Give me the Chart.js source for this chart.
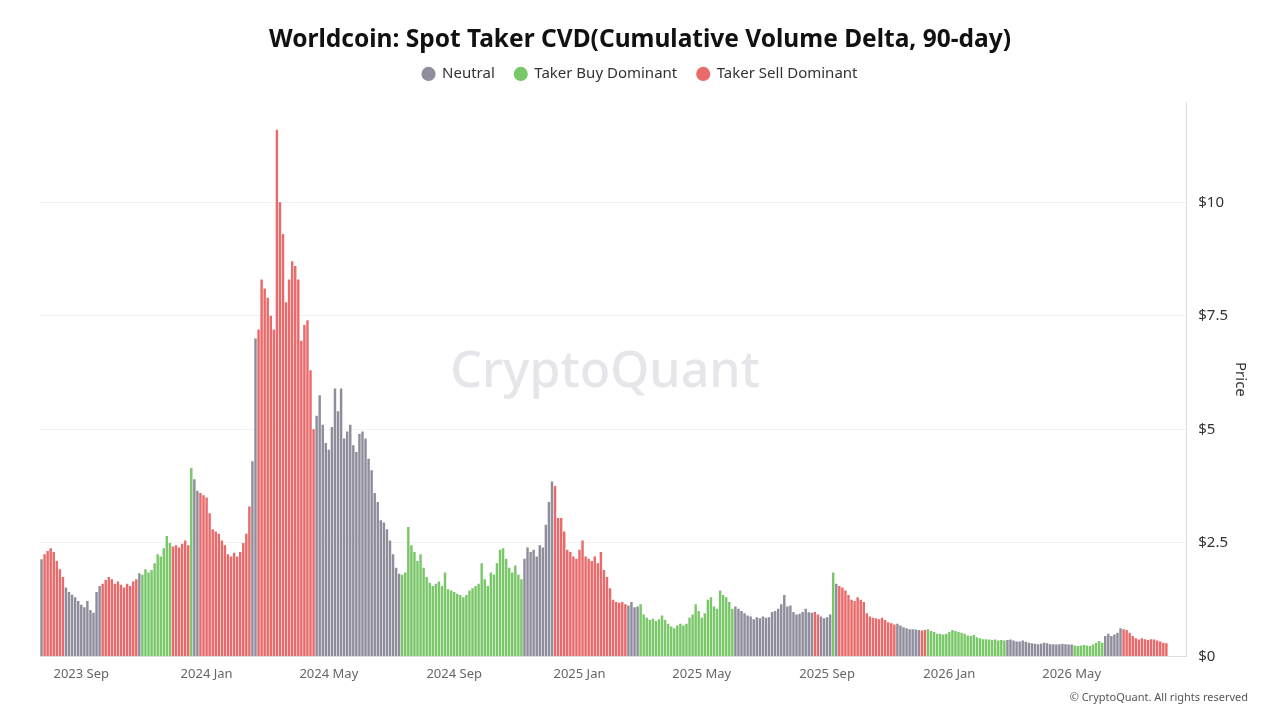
<!DOCTYPE html>
<html>
<head>
<meta charset="utf-8">
<title>Worldcoin: Spot Taker CVD</title>
<script src="https://cdn.jsdelivr.net/npm/chart.js@4.4.1/dist/chart.umd.min.js"></script>
<style>
  html, body { margin: 0; padding: 0; background: #fff; }
  #wrap { width: 1280px; height: 720px; position: relative; }
</style>
</head>
<body>
<div id="wrap"><canvas id="cvdChart"></canvas></div>
<script>
// one bar every 3 days, starting at startDate
const startDate = '2023-07-23';
const stepDays = 3;
const tailSlots = 6; // empty room at the end of the axis

// WLD price (USD)
const prices = [
  2.14, 2.25, 2.32, 2.38, 2.30, 2.10, 1.92, 1.75, 1.52, 1.42,
  1.36, 1.30, 1.22, 1.14, 1.08, 1.22, 1.02, 0.96, 1.42, 1.55,
  1.60, 1.68, 1.75, 1.70, 1.60, 1.65, 1.58, 1.52, 1.60, 1.55,
  1.65, 1.70, 1.83, 1.80, 1.92, 1.85, 1.90, 2.05, 2.25, 2.20,
  2.38, 2.65, 2.50, 2.42, 2.45, 2.40, 2.48, 2.55, 2.45, 4.15,
  3.90, 3.65, 3.60, 3.55, 3.50, 3.15, 2.80, 2.75, 2.70, 2.55,
  2.45, 2.25, 2.20, 2.28, 2.20, 2.30, 2.50, 2.70, 3.30, 4.30,
  7.00, 7.20, 8.30, 8.10, 7.90, 7.50, 7.20, 11.60, 10.00, 9.30,
  7.80, 8.30, 8.70, 8.60, 8.30, 6.95, 7.30, 7.40, 6.30, 5.00,
  5.30, 5.75, 5.10, 4.70, 4.55, 5.05, 5.90, 5.40, 5.90, 4.80,
  4.95, 5.10, 4.65, 4.50, 4.90, 4.95, 4.80, 4.35, 4.10, 3.60,
  3.40, 3.00, 2.95, 2.80, 2.55, 2.25, 1.95, 1.82, 1.80, 1.85,
  2.85, 2.45, 2.30, 2.10, 2.25, 1.95, 1.75, 1.62, 1.55, 1.60,
  1.65, 1.55, 1.85, 1.48, 1.45, 1.42, 1.38, 1.35, 1.30, 1.35,
  1.45, 1.50, 1.55, 1.60, 2.05, 1.70, 1.55, 1.85, 1.80, 2.05,
  2.35, 2.38, 2.15, 1.95, 1.85, 2.00, 1.80, 1.70, 2.15, 2.40,
  2.30, 2.35, 2.20, 2.45, 2.40, 2.90, 3.40, 3.85, 3.75, 3.05,
  3.05, 2.75, 2.35, 2.30, 2.20, 2.15, 2.35, 2.55, 2.20, 2.15,
  2.10, 2.20, 2.05, 2.30, 1.90, 1.75, 1.50, 1.25, 1.20, 1.18,
  1.20, 1.15, 1.12, 1.20, 1.08, 1.10, 1.15, 0.92, 0.85, 0.80,
  0.83, 0.78, 0.82, 0.90, 0.80, 0.72, 0.66, 0.62, 0.68, 0.72,
  0.68, 0.72, 0.85, 0.92, 1.15, 1.00, 0.85, 0.95, 1.25, 1.30,
  1.10, 1.05, 1.45, 1.35, 1.30, 1.20, 1.05, 1.10, 1.05, 1.00,
  0.95, 0.90, 0.88, 0.82, 0.86, 0.84, 0.88, 0.85, 0.86, 0.98,
  1.00, 1.05, 1.15, 1.35, 1.10, 1.12, 0.98, 0.92, 0.94, 0.98,
  1.05, 0.97, 0.96, 0.98, 0.92, 0.88, 0.84, 0.86, 0.92, 1.85,
  1.60, 1.55, 1.52, 1.45, 1.35, 1.25, 1.22, 1.30, 1.25, 1.20,
  0.95, 0.88, 0.85, 0.84, 0.82, 0.85, 0.80, 0.75, 0.73, 0.70,
  0.72, 0.68, 0.64, 0.62, 0.60, 0.60, 0.59, 0.58, 0.57, 0.58,
  0.60, 0.56, 0.54, 0.50, 0.50, 0.48, 0.50, 0.54, 0.58, 0.56,
  0.54, 0.52, 0.50, 0.46, 0.45, 0.47, 0.42, 0.40, 0.38, 0.38,
  0.37, 0.36, 0.37, 0.35, 0.36, 0.35, 0.36, 0.37, 0.35, 0.33,
  0.33, 0.35, 0.32, 0.30, 0.29, 0.28, 0.27, 0.28, 0.30, 0.29,
  0.27, 0.27, 0.26, 0.27, 0.28, 0.27, 0.26, 0.26, 0.24, 0.23,
  0.24, 0.25, 0.24, 0.23, 0.26, 0.30, 0.34, 0.30, 0.45, 0.50,
  0.45, 0.48, 0.52, 0.62, 0.60, 0.58, 0.52, 0.45, 0.40, 0.37,
  0.40, 0.38, 0.36, 0.38, 0.37, 0.35, 0.33, 0.30, 0.29
];

// CVD regime as runs: [code, number of bars]
// N = Neutral, B = Taker Buy Dominant, S = Taker Sell Dominant
const regimeRuns = [
  ['N', 1], ['S', 7], ['N', 12], ['S', 12], ['N', 1], ['B', 10], ['S', 6],
  ['B', 1], ['N', 2], ['S', 17], ['N', 2], ['S', 19], ['N', 28], ['B', 40],
  ['N', 10], ['S', 24], ['N', 4], ['B', 31], ['N', 26], ['S', 2], ['N', 4],
  ['B', 1], ['N', 1], ['S', 19], ['N', 8], ['S', 2], ['B', 26], ['N', 22],
  ['B', 10], ['N', 6], ['S', 15]
];

const seriesNames = ['Neutral', 'Taker Buy Dominant', 'Taker Sell Dominant'];
const seriesCodes = ['N', 'B', 'S'];
const seriesColors = ['#8e8d9b', '#79c768', '#e96a6a'];

const yTicks = [0, 2.5, 5, 7.5, 10];
const tickMonths = [0, 4, 8]; // Jan, May, Sep
const monthNames = ['Jan', 'Feb', 'Mar', 'Apr', 'May', 'Jun', 'Jul', 'Aug', 'Sep', 'Oct', 'Nov', 'Dec'];

document.addEventListener('DOMContentLoaded', () => {
  const canvas = document.getElementById('cvdChart');

  const regimes = [];
  regimeRuns.forEach(([code, n]) => {
    for (let k = 0; k < n; k++) regimes.push(code);
  });

  const slotCount = prices.length + tailSlots;
  const t0 = Date.parse(startDate + 'T00:00:00Z');
  const dayMs = 86400000;
  const labels = [];
  const tickText = {};
  for (let i = 0; i < slotCount; i++) {
    const start = new Date(t0 + i * stepDays * dayMs);
    labels.push(start.toISOString().slice(0, 10));
    for (let d = 0; d < stepDays; d++) {
      const day = new Date(t0 + (i * stepDays + d) * dayMs);
      if (day.getUTCDate() === 1 && tickMonths.includes(day.getUTCMonth())) {
        tickText[i] = `${day.getUTCFullYear()} ${monthNames[day.getUTCMonth()]}`;
      }
    }
  }

  const datasets = seriesCodes.map((code, s) => ({
    label: seriesNames[s],
    data: labels.map((_, i) => (i < prices.length && regimes[i] === code ? prices[i] : null)),
    backgroundColor: seriesColors[s],
    borderWidth: 0,
    grouped: false,
    barPercentage: 0.8,
    categoryPercentage: 1.0
  }));

  // a bit more room between the legend and the plot
  const legendGap = {
    id: 'legendGap',
    beforeInit(chart) {
      const fit = chart.legend.fit;
      chart.legend.fit = function () {
        fit.bind(chart.legend)();
        this.height += 11;
      };
    }
  };

  // watermark + copyright
  const decor = {
    id: 'decor',
    beforeDatasetsDraw(chart) {
      const { ctx } = chart;
      ctx.save();
      ctx.fillStyle = 'rgba(205, 205, 214, 0.5)';
      ctx.font = '500 50px "Noto Sans", sans-serif';
      ctx.textAlign = 'center';
      ctx.textBaseline = 'middle';
      ctx.fillText('CryptoQuant', 605, 373);
      ctx.restore();
    },
    afterDraw(chart) {
      const { ctx } = chart;
      ctx.save();
      ctx.fillStyle = '#555';
      ctx.font = '11px "Noto Sans", sans-serif';
      ctx.textAlign = 'right';
      ctx.textBaseline = 'middle';
      ctx.fillText('\u00A9 CryptoQuant. All rights reserved', 1248, 698);
      ctx.restore();
    }
  };

  new Chart(canvas, {
    type: 'bar',
    data: { labels, datasets },
    plugins: [legendGap, decor],
    options: {
      responsive: true,
      maintainAspectRatio: false,
      animation: false,
      layout: { padding: { left: 29, right: 29, top: 4, bottom: 34 } },
      plugins: {
        title: {
          display: true,
          text: 'Worldcoin: Spot Taker CVD(Cumulative Volume Delta, 90-day)',
          color: '#111',
          font: { family: '"Noto Sans", sans-serif', size: 24.5, weight: 'bold' },
          padding: { top: 21, bottom: -8 }
        },
        legend: {
          position: 'top',
          labels: {
            usePointStyle: true,
            pointStyle: 'circle',
            boxWidth: 12,
            boxHeight: 10,
            color: '#333',
            padding: 20,
            font: { family: '"Noto Sans", sans-serif', size: 15 }
          }
        },
        tooltip: { enabled: false }
      },
      scales: {
        x: {
          grid: {
            drawOnChartArea: false,
            drawTicks: true,
            tickLength: 6,
            color: ctx => (tickText[ctx.index] ? '#d6d6de' : 'rgba(0,0,0,0)')
          },
          border: { color: '#dcdce4' },
          ticks: {
            autoSkip: false,
            maxRotation: 0,
            padding: 4,
            color: '#666',
            font: { family: '"Noto Sans", sans-serif', size: 13 },
            callback: (value, index) => tickText[index] || null
          }
        },
        y: {
          position: 'right',
          min: 0,
          max: 12.2,
          afterBuildTicks: scale => {
            scale.ticks = yTicks.map(v => ({ value: v }));
          },
          afterFit: scale => { scale.width -= 9; },
          grid: { color: 'rgba(0,0,0,0.05)', drawTicks: false },
          border: { color: '#d9d9e3' },
          ticks: {
            padding: 12,
            color: '#333',
            font: { family: '"Noto Sans", sans-serif', size: 15 },
            callback: v => '$' + v
          },
          title: {
            display: true,
            text: 'Price',
            color: '#333',
            padding: { top: 2, bottom: 0 },
            font: { family: '"Noto Sans", sans-serif', size: 15 }
          }
        },
        // empty strip on the left, keeps title and legend centred on the page
        gutter: {
          position: 'left',
          display: true,
          afterFit: scale => { scale.width = 11; },
          grid: { display: false },
          border: { display: false },
          ticks: { display: false }
        }
      }
    }
  });
});
</script>
</body>
</html>
